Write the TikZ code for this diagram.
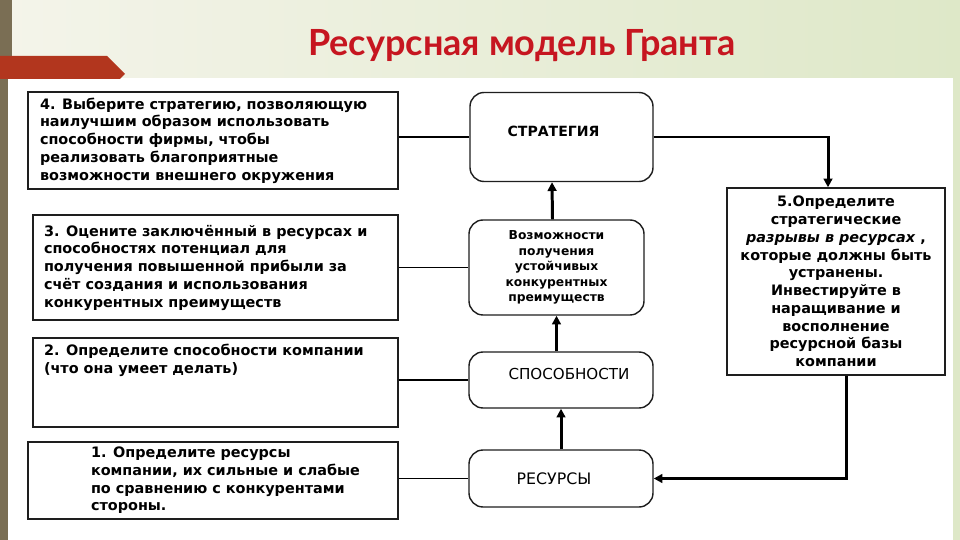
\documentclass[tikz,border=0pt]{standalone}
\usepackage{fontspec}
\setmainfont{DejaVu Sans}
\newfontfamily\titlefont{Lato}
\usetikzlibrary{arrows.meta,calc}

\definecolor{titlered}{RGB}{198,22,32}
\definecolor{bandbrown}{RGB}{122,110,84}
\definecolor{ribbonred}{RGB}{178,54,30}
\definecolor{paleleft}{RGB}{244,244,234}
\definecolor{paleright}{RGB}{222,232,200}
\definecolor{boxline}{RGB}{30,30,30}

\newlength\pxunit
\setlength\pxunit{0.02cm}
\newcommand\boxfont{\fontsize{8.2}{10.1}\selectfont\bfseries}
\newcommand\smallfont{\fontsize{7.0}{8.8}\selectfont\bfseries}

\begin{document}
\begin{tikzpicture}[x=0.02cm,y=-0.02cm,
      side box/.style={draw=boxline,line width=0.8pt,inner sep=0pt,font=\boxfont},
      core box/.style={draw=boxline,line width=0.8pt,rounded corners=8pt,inner sep=0pt,align=center},
      thin line/.style={line width=1pt,black},
      thick arrow/.style={line width=1.7pt,black,-{Triangle[length=5pt,width=5pt]}}
                   ]
    \useasboundingbox (0,0) rectangle (960,540);
    % slide background
    \shade[left color=paleleft,right color=paleright] (0,0) rectangle (960,540);
    \fill[white] (8,78) rectangle (953,540);
    \fill[bandbrown] (0,0) rectangle (12,56);
    \fill[bandbrown] (0,56) rectangle (8,540);
    \fill[ribbonred] (0,56) -- (107,56) -- (125,74) -- (120,79) -- (0,79) -- cycle;
    \node[font=\titlefont\fontsize{20.5}{22}\selectfont\bfseries,text=titlered] (title) at (522,46) {Ресурсная модель Гранта};

    % left column
    \node[side box,minimum width=370\pxunit,minimum height=97\pxunit] (s4) at (213,140.5)
        {\parbox{346\pxunit}{\raggedright 4. Выберите стратегию, позволяющую\\наилучшим образом использовать\\способности фирмы, чтобы\\реализовать благоприятные\\возможности внешнего окружения}};
    \node[side box,minimum width=365\pxunit,minimum height=105\pxunit] (s3) at (215.5,267.5)
        {\parbox{343\pxunit}{\raggedright 3. Оцените заключённый в ресурсах и\\способностях потенциал для\\получения повышенной прибыли за\\счёт создания и использования\\конкурентных преимуществ}};
    \node[side box,minimum width=365\pxunit,minimum height=89\pxunit] (s2) at (215.5,382.5)
        {\parbox[c][77\pxunit][t]{343\pxunit}{\raggedright 2. Определите способности компании\\(что она умеет делать)}};
    \node[side box,minimum width=370\pxunit,minimum height=77\pxunit] (s1) at (213,480.5)
        {\hspace*{26\pxunit}\parbox{270\pxunit}{\raggedright 1. Определите ресурсы\\компании, их сильные и слабые\\по сравнению с конкурентами\\стороны.}};

    % centre column
    \node[core box,minimum width=183\pxunit,minimum height=89\pxunit,font=\fontsize{8}{9}\selectfont\bfseries] (strat) at (561.5,137) {\raisebox{12\pxunit}{СТРАТЕГИЯ}\hspace*{16\pxunit}};
    \node[core box,minimum width=175\pxunit,minimum height=95\pxunit,font=\smallfont] (vozm) at (556.5,267.5)
        {Возможности\\получения\\устойчивых\\конкурентных\\преимуществ};
    \node[core box,minimum width=184\pxunit,minimum height=56\pxunit,font=\fontsize{8.6}{10}\selectfont] (spos) at (561,380) {\hspace*{16\pxunit}\raisebox{13\pxunit}{СПОСОБНОСТИ}};
    \node[core box,minimum width=184\pxunit,minimum height=57\pxunit,font=\fontsize{9}{10}\selectfont] (res) at (561,478.5) {РЕСУРСЫ\hspace*{14\pxunit}};

    % right column
    \node[side box,minimum width=218\pxunit,minimum height=187\pxunit,align=center] (gaps) at (836,281.5)
        {5.Определите\\стратегические\\\textit{разрывы в ресурсах} ,\\которые должны быть\\устранены.\\Инвестируйте в\\наращивание и\\восполнение\\ресурсной базы\\компании};

    % connectors
    \draw[thin line] (strat.west -| s4.east) -- (strat.west);
    \draw[thin line] (vozm.west -| s3.east) -- (vozm.west);
    \draw[thin line] (spos.west -| s2.east) -- (spos.west);
    \draw[thin line] (res.west -| s1.east) -- (res.west);

    \draw[thick arrow] (res.north) -- (spos.south);
    \draw[thick arrow] (spos.north -| vozm) -- (vozm.south);
    \draw[thick arrow] ($(vozm.north)+(-4,0)$) -- ($(strat.south)+(-9.5,0)$);
    \draw[thick arrow] (strat.east) -| ($(gaps.north)+(-8,0)$);
    \draw[thick arrow] ($(gaps.south)+(10,0)$) |- (res.east);
\end{tikzpicture}
\end{document}
